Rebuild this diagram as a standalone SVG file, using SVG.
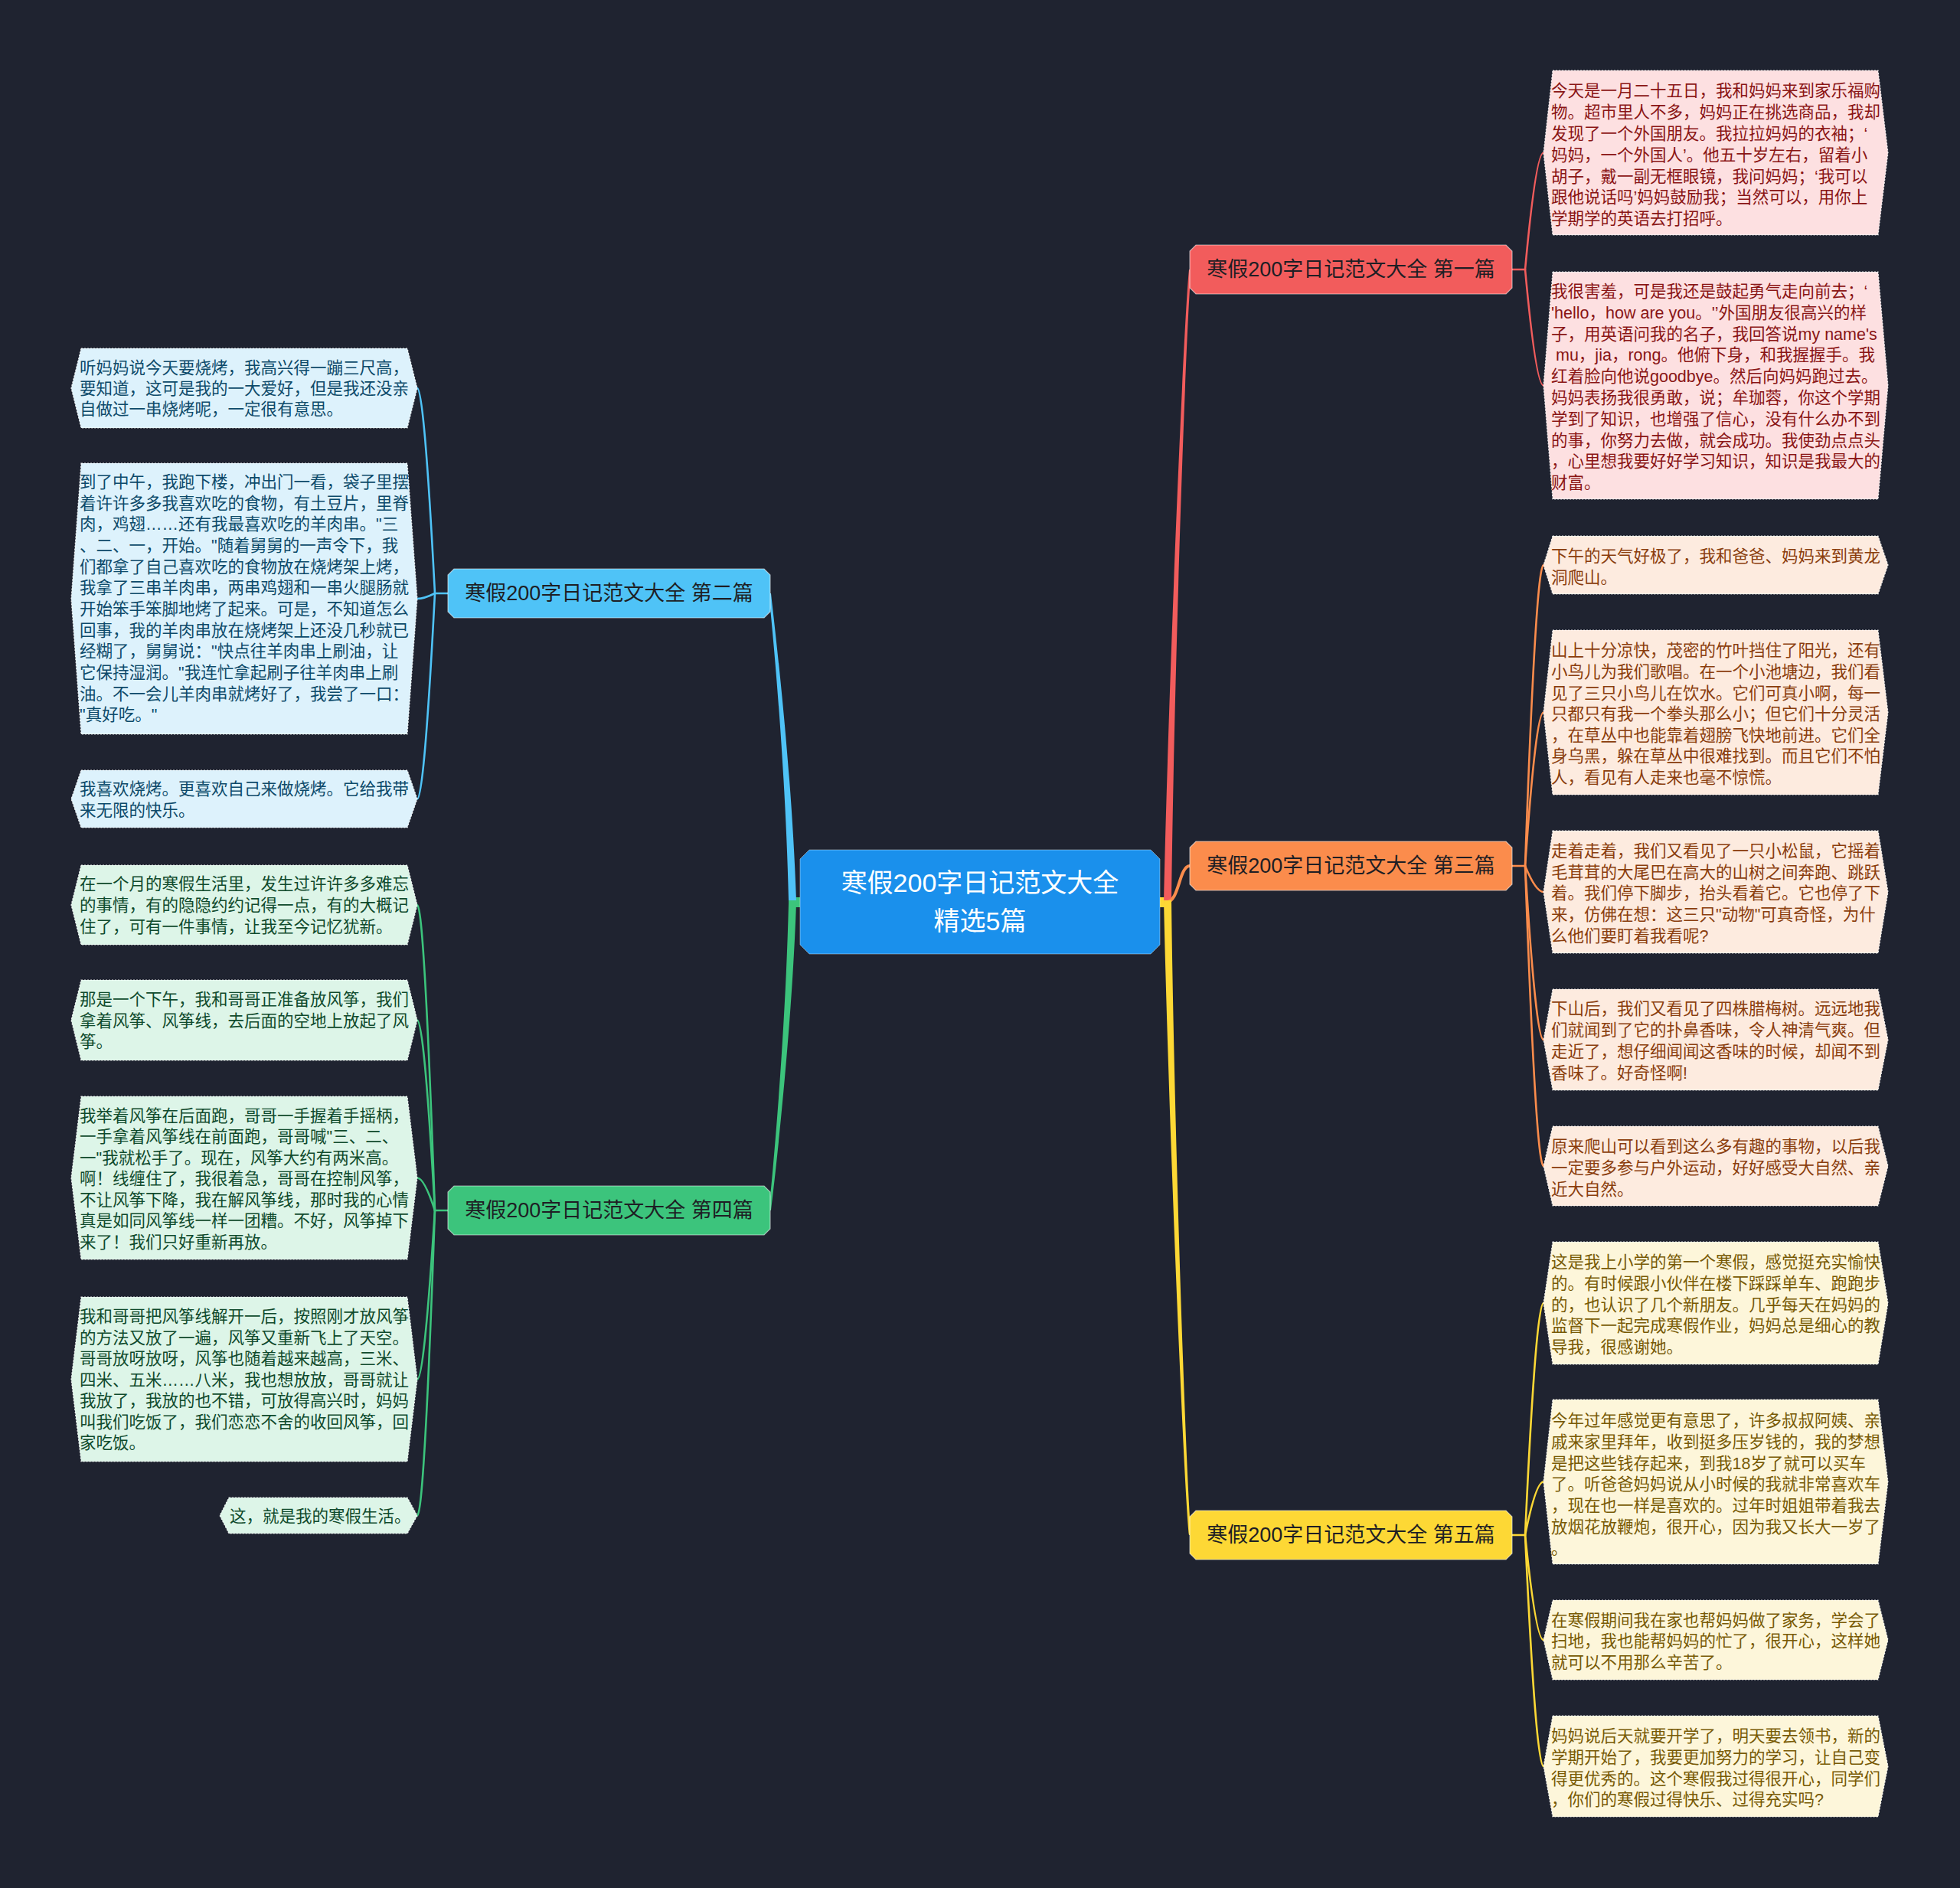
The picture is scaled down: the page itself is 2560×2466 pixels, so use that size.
<svg xmlns="http://www.w3.org/2000/svg" width="2560" height="2466" viewBox="0 0 2560 2466">
<style>
text{font-family:"Liberation Sans","Noto Sans CJK SC",sans-serif;}
.lf{font-size:21.5px;}
.leaf{stroke:#ffffff;stroke-width:1.2;stroke-dasharray:2 2;stroke-opacity:0.85;}
.red .leaf{fill:#fde0e1;} .red text{fill:#8a1515;}
.org .leaf{fill:#fdebdf;} .org text{fill:#8a3d0d;}
.yel .leaf{fill:#fdf6da;} .yel text{fill:#785a05;}
.blu .leaf{fill:#ddf2fc;} .blu text{fill:#0d4a6a;}
.grn .leaf{fill:#ddf5e8;} .grn text{fill:#0f4a2c;}
.br{stroke:#ffffff;stroke-opacity:0.55;stroke-width:1.2;}
.bt{font-size:27px;fill:#1e1e24;text-anchor:middle;}
.c{fill:none;stroke-width:2.6;stroke-linecap:round;}
</style>
<rect width="2560" height="2466" fill="#1f2330"/>

<g id="connectors">
  <rect x="1513" y="1172" width="17" height="13" fill="#fdd835"/>
  <rect x="1030" y="1172" width="17" height="13" fill="#3cc47c"/>
  <path d="M1520,1180 C1526,900 1546,420 1553,352 L1556,352 C1549,420 1533,900 1530,1180 Z" fill="#f25c5c"/>
  <path d="M1524,1178 C1540,1178 1540,1131 1554,1131" fill="none" stroke="#fb8c4c" stroke-width="4"/>
  <path d="M1520,1176 C1526,1450 1546,1940 1553,2005 L1556,2005 C1549,1940 1533,1450 1530,1176 Z" fill="#fdd835"/>
  <path d="M1040,1176 C1034,1000 1012,820 1007,775 L1004,775 C1009,820 1026,1000 1030,1176 Z" fill="#4fc3f7"/>
  <path d="M1040,1180 C1034,1350 1012,1540 1007,1581 L1004,1581 C1009,1540 1026,1350 1030,1180 Z" fill="#3cc47c"/>
  <g stroke="#f25c5c" class="c">
    <path d="M1975,352 L1992,352"/>
    <path d="M1992,352 Q2006,199.5 2016,199.5"/>
    <path d="M1992,352 Q2006,503.5 2016,503.5"/>
  </g>
  <g stroke="#fb8c4c" class="c">
    <path d="M1975,1131 L1992,1131"/>
    <path d="M1992,1131 Q2006,738 2016,738"/>
    <path d="M1992,1131 Q2006,930.5 2016,930.5"/>
    <path d="M1992,1131 Q2006,1165 2016,1165"/>
    <path d="M1992,1131 Q2006,1358 2016,1358"/>
    <path d="M1992,1131 Q2006,1523 2016,1523"/>
  </g>
  <g stroke="#fdd835" class="c">
    <path d="M1975,2005 L1992,2005"/>
    <path d="M1992,2005 Q2006,1702 2016,1702"/>
    <path d="M1992,2005 Q2006,1935.5 2016,1935.5"/>
    <path d="M1992,2005 Q2006,2142 2016,2142"/>
    <path d="M1992,2005 Q2006,2307 2016,2307"/>
  </g>
  <g stroke="#4fc3f7" class="c">
    <path d="M585,775 L568,775"/>
    <path d="M568,775 Q554,507 545,507"/>
    <path d="M568,775 Q554,782 545,782"/>
    <path d="M568,775 Q554,1043.5 545,1043.5"/>
  </g>
  <g stroke="#3cc47c" class="c">
    <path d="M585,1581 L568,1581"/>
    <path d="M568,1581 Q554,1182 545,1182"/>
    <path d="M568,1581 Q554,1332.5 545,1332.5"/>
    <path d="M568,1581 Q554,1538.5 545,1538.5"/>
    <path d="M568,1581 Q554,1801.5 545,1801.5"/>
    <path d="M568,1581 Q554,1979.5 545,1979.5"/>
  </g>
</g>

<g id="center">
  <polygon points="1057,1110 1503,1110 1515,1122 1515,1234 1503,1246 1057,1246 1045,1234 1045,1122" fill="#1a90ec" stroke="#ffffff" stroke-opacity="0.4" stroke-width="1"/>
  <text x="1280" y="1165" font-size="34" fill="#ffffff" text-anchor="middle">寒假200字日记范文大全</text>
  <text x="1280" y="1215" font-size="34" fill="#ffffff" text-anchor="middle">精选5篇</text>
</g>

<g id="branch1">
  <polygon class="br" points="1562,320 1967,320 1975,328 1975,376 1967,384 1562,384 1554,376 1554,328" fill="#f25c5c"/>
  <text class="bt" x="1764.5" y="361">寒假200字日记范文大全 第一篇</text>
</g>
<g id="branch3">
  <polygon class="br" points="1562,1099 1967,1099 1975,1107 1975,1155 1967,1163 1562,1163 1554,1155 1554,1107" fill="#fb8c4c"/>
  <text class="bt" x="1764.5" y="1140">寒假200字日记范文大全 第三篇</text>
</g>
<g id="branch5">
  <polygon class="br" points="1562,1973 1967,1973 1975,1981 1975,2029 1967,2037 1562,2037 1554,2029 1554,1981" fill="#fdd835"/>
  <text class="bt" x="1764.5" y="2014">寒假200字日记范文大全 第五篇</text>
</g>
<g id="branch2">
  <polygon class="br" points="593,743 998,743 1006,751 1006,799 998,807 593,807 585,799 585,751" fill="#4fc3f7"/>
  <text class="bt" x="795.5" y="784">寒假200字日记范文大全 第二篇</text>
</g>
<g id="branch4">
  <polygon class="br" points="593,1549 998,1549 1006,1557 1006,1605 998,1613 593,1613 585,1605 585,1557" fill="#3cc47c"/>
  <text class="bt" x="795.5" y="1590">寒假200字日记范文大全 第四篇</text>
</g>

<g id="leaf-r1a" class="red">
  <polygon class="leaf" points="2028,92 2453,92 2466,199.5 2453,307 2028,307 2016,199.5"/>
  <text class="lf" x="2026" y="126.3"><tspan x="2026">今天是一月二十五日，我和妈妈来到家乐福购</tspan><tspan x="2026" dy="27.8">物。超市里人不多，妈妈正在挑选商品，我却</tspan><tspan x="2026" dy="27.8">发现了一个外国朋友。我拉拉妈妈的衣袖；‘</tspan><tspan x="2026" dy="27.8">妈妈，一个外国人’。他五十岁左右，留着小</tspan><tspan x="2026" dy="27.8">胡子，戴一副无框眼镜，我问妈妈；‘我可以</tspan><tspan x="2026" dy="27.8">跟他说话吗’妈妈鼓励我；当然可以，用你上</tspan><tspan x="2026" dy="27.8">学期学的英语去打招呼。</tspan></text>
</g>
<g id="leaf-r1b" class="red">
  <polygon class="leaf" points="2028,355 2453,355 2466,503.5 2453,652 2028,652 2016,503.5"/>
  <text class="lf" x="2026" y="388"><tspan x="2026">我很害羞，可是我还是鼓起勇气走向前去；‘</tspan><tspan x="2026" dy="27.8">'hello，how are you。'’外国朋友很高兴的样</tspan><tspan x="2026" dy="27.8">子，用英语问我的名子，我回答说my name's</tspan><tspan x="2032" dy="27.8">mu，jia，rong。他俯下身，和我握握手。我</tspan><tspan x="2026" dy="27.8">红着脸向他说goodbye。然后向妈妈跑过去。</tspan><tspan x="2026" dy="27.8">妈妈表扬我很勇敢，说；牟珈蓉，你这个学期</tspan><tspan x="2026" dy="27.8">学到了知识，也增强了信心，没有什么办不到</tspan><tspan x="2026" dy="27.8">的事，你努力去做，就会成功。我使劲点点头</tspan><tspan x="2026" dy="27.8">，心里想我要好好学习知识，知识是我最大的</tspan><tspan x="2026" dy="27.8">财富。</tspan></text>
</g>
<g id="leaf-r3a" class="org">
  <polygon class="leaf" points="2028,700 2453,700 2466,738 2453,776 2028,776 2016,738"/>
  <text class="lf" x="2026" y="734"><tspan x="2026">下午的天气好极了，我和爸爸、妈妈来到黄龙</tspan><tspan x="2026" dy="27.5">洞爬山。</tspan></text>
</g>
<g id="leaf-r3b" class="org">
  <polygon class="leaf" points="2028,823 2453,823 2466,930.5 2453,1038 2028,1038 2016,930.5"/>
  <text class="lf" x="2026" y="857.3"><tspan x="2026">山上十分凉快，茂密的竹叶挡住了阳光，还有</tspan><tspan x="2026" dy="27.6">小鸟儿为我们歌唱。在一个小池塘边，我们看</tspan><tspan x="2026" dy="27.6">见了三只小鸟儿在饮水。它们可真小啊，每一</tspan><tspan x="2026" dy="27.6">只都只有我一个拳头那么小；但它们十分灵活</tspan><tspan x="2026" dy="27.6">，在草丛中也能靠着翅膀飞快地前进。它们全</tspan><tspan x="2026" dy="27.6">身乌黑，躲在草丛中很难找到。而且它们不怕</tspan><tspan x="2026" dy="27.6">人，看见有人走来也毫不惊慌。</tspan></text>
</g>
<g id="leaf-r3c" class="org">
  <polygon class="leaf" points="2028,1085 2453,1085 2466,1165 2453,1245 2028,1245 2016,1165"/>
  <text class="lf" x="2026" y="1119"><tspan x="2026">走着走着，我们又看见了一只小松鼠，它摇着</tspan><tspan x="2026" dy="27.7">毛茸茸的大尾巴在高大的山树之间奔跑、跳跃</tspan><tspan x="2026" dy="27.7">着。我们停下脚步，抬头看着它。它也停了下</tspan><tspan x="2026" dy="27.7">来，仿佛在想：这三只"动物"可真奇怪，为什</tspan><tspan x="2026" dy="27.7">么他们要盯着我看呢?</tspan></text>
</g>
<g id="leaf-r3d" class="org">
  <polygon class="leaf" points="2028,1292 2453,1292 2466,1358 2453,1424 2028,1424 2016,1358"/>
  <text class="lf" x="2026" y="1325.3"><tspan x="2026">下山后，我们又看见了四株腊梅树。远远地我</tspan><tspan x="2026" dy="27.8">们就闻到了它的扑鼻香味，令人神清气爽。但</tspan><tspan x="2026" dy="27.8">走近了，想仔细闻闻这香味的时候，却闻不到</tspan><tspan x="2026" dy="27.8">香味了。好奇怪啊!</tspan></text>
</g>
<g id="leaf-r3e" class="org">
  <polygon class="leaf" points="2028,1471 2453,1471 2466,1523 2453,1575 2028,1575 2016,1523"/>
  <text class="lf" x="2026" y="1504.7"><tspan x="2026">原来爬山可以看到这么多有趣的事物，以后我</tspan><tspan x="2026" dy="28">一定要多参与户外运动，好好感受大自然、亲</tspan><tspan x="2026" dy="28">近大自然。</tspan></text>
</g>
<g id="leaf-r5a" class="yel">
  <polygon class="leaf" points="2028,1622 2453,1622 2466,1702 2453,1782 2028,1782 2016,1702"/>
  <text class="lf" x="2026" y="1656.3"><tspan x="2026">这是我上小学的第一个寒假，感觉挺充实愉快</tspan><tspan x="2026" dy="27.7">的。有时候跟小伙伴在楼下踩踩单车、跑跑步</tspan><tspan x="2026" dy="27.7">的，也认识了几个新朋友。几乎每天在妈妈的</tspan><tspan x="2026" dy="27.7">监督下一起完成寒假作业，妈妈总是细心的教</tspan><tspan x="2026" dy="27.7">导我，很感谢她。</tspan></text>
</g>
<g id="leaf-r5b" class="yel">
  <polygon class="leaf" points="2028,1828 2453,1828 2466,1935.5 2453,2043 2028,2043 2016,1935.5"/>
  <text class="lf" x="2026" y="1863"><tspan x="2026">今年过年感觉更有意思了，许多叔叔阿姨、亲</tspan><tspan x="2026" dy="27.8">戚来家里拜年，收到挺多压岁钱的，我的梦想</tspan><tspan x="2026" dy="27.8">是把这些钱存起来，到我18岁了就可以买车</tspan><tspan x="2026" dy="27.8">了。听爸爸妈妈说从小时候的我就非常喜欢车</tspan><tspan x="2026" dy="27.8">，现在也一样是喜欢的。过年时姐姐带着我去</tspan><tspan x="2026" dy="27.8">放烟花放鞭炮，很开心，因为我又长大一岁了</tspan><tspan x="2026" dy="27.8">。</tspan></text>
</g>
<g id="leaf-r5c" class="yel">
  <polygon class="leaf" points="2028,2090 2453,2090 2466,2142 2453,2194 2028,2194 2016,2142"/>
  <text class="lf" x="2026" y="2124"><tspan x="2026">在寒假期间我在家也帮妈妈做了家务，学会了</tspan><tspan x="2026" dy="27.4">扫地，我也能帮妈妈的忙了，很开心，这样她</tspan><tspan x="2026" dy="27.4">就可以不用那么辛苦了。</tspan></text>
</g>
<g id="leaf-r5d" class="yel">
  <polygon class="leaf" points="2028,2241 2453,2241 2466,2307 2453,2373 2028,2373 2016,2307"/>
  <text class="lf" x="2026" y="2275.3"><tspan x="2026">妈妈说后天就要开学了，明天要去领书，新的</tspan><tspan x="2026" dy="27.6">学期开始了，我要更加努力的学习，让自己变</tspan><tspan x="2026" dy="27.6">得更优秀的。这个寒假我过得很开心，同学们</tspan><tspan x="2026" dy="27.6">，你们的寒假过得快乐、过得充实吗?</tspan></text>
</g>

<g id="leaf-l2a" class="blu">
  <polygon class="leaf" points="106,455 532,455 545,507 532,559 106,559 93,507"/>
  <text class="lf" x="104" y="487.8"><tspan x="104">听妈妈说今天要烧烤，我高兴得一蹦三尺高，</tspan><tspan x="104" dy="27.1">要知道，这可是我的一大爱好，但是我还没亲</tspan><tspan x="104" dy="27.1">自做过一串烧烤呢，一定很有意思。</tspan></text>
</g>
<g id="leaf-l2b" class="blu">
  <polygon class="leaf" points="106,605 532,605 545,782 532,959 106,959 93,782"/>
  <text class="lf" x="104" y="636.9"><tspan x="104">到了中午，我跑下楼，冲出门一看，袋子里摆</tspan><tspan x="104" dy="27.67">着许许多多我喜欢吃的食物，有土豆片，里脊</tspan><tspan x="104" dy="27.67">肉，鸡翅……还有我最喜欢吃的羊肉串。"三</tspan><tspan x="104" dy="27.67">、二、一，开始。"随着舅舅的一声令下，我</tspan><tspan x="104" dy="27.67">们都拿了自己喜欢吃的食物放在烧烤架上烤，</tspan><tspan x="104" dy="27.67">我拿了三串羊肉串，两串鸡翅和一串火腿肠就</tspan><tspan x="104" dy="27.67">开始笨手笨脚地烤了起来。可是，不知道怎么</tspan><tspan x="104" dy="27.67">回事，我的羊肉串放在烧烤架上还没几秒就已</tspan><tspan x="104" dy="27.67">经糊了，舅舅说："快点往羊肉串上刷油，让</tspan><tspan x="104" dy="27.67">它保持湿润。"我连忙拿起刷子往羊肉串上刷</tspan><tspan x="104" dy="27.67">油。不一会儿羊肉串就烤好了，我尝了一口：</tspan><tspan x="104" dy="27.67">"真好吃。"</tspan></text>
</g>
<g id="leaf-l2c" class="blu">
  <polygon class="leaf" points="106,1006 532,1006 545,1043.5 532,1081 106,1081 93,1043.5"/>
  <text class="lf" x="104" y="1038"><tspan x="104">我喜欢烧烤。更喜欢自己来做烧烤。它给我带</tspan><tspan x="104" dy="27.5">来无限的快乐。</tspan></text>
</g>
<g id="leaf-l4a" class="grn">
  <polygon class="leaf" points="106,1130 532,1130 545,1182 532,1234 106,1234 93,1182"/>
  <text class="lf" x="104" y="1161.6"><tspan x="104">在一个月的寒假生活里，发生过许许多多难忘</tspan><tspan x="104" dy="28">的事情，有的隐隐约约记得一点，有的大概记</tspan><tspan x="104" dy="28">住了，可有一件事情，让我至今记忆犹新。</tspan></text>
</g>
<g id="leaf-l4b" class="grn">
  <polygon class="leaf" points="106,1280 532,1280 545,1332.5 532,1385 106,1385 93,1332.5"/>
  <text class="lf" x="104" y="1313"><tspan x="104">那是一个下午，我和哥哥正准备放风筝，我们</tspan><tspan x="104" dy="27.6">拿着风筝、风筝线，去后面的空地上放起了风</tspan><tspan x="104" dy="27.6">筝。</tspan></text>
</g>
<g id="leaf-l4c" class="grn">
  <polygon class="leaf" points="106,1432 532,1432 545,1538.5 532,1645 106,1645 93,1538.5"/>
  <text class="lf" x="104" y="1464.6"><tspan x="104">我举着风筝在后面跑，哥哥一手握着手摇柄，</tspan><tspan x="104" dy="27.55">一手拿着风筝线在前面跑，哥哥喊"三、二、</tspan><tspan x="104" dy="27.55">一"我就松手了。现在，风筝大约有两米高。</tspan><tspan x="104" dy="27.55">啊！线缠住了，我很着急，哥哥在控制风筝，</tspan><tspan x="104" dy="27.55">不让风筝下降，我在解风筝线，那时我的心情</tspan><tspan x="104" dy="27.55">真是如同风筝线一样一团糟。不好，风筝掉下</tspan><tspan x="104" dy="27.55">来了！我们只好重新再放。</tspan></text>
</g>
<g id="leaf-l4d" class="grn">
  <polygon class="leaf" points="106,1694 532,1694 545,1801.5 532,1909 106,1909 93,1801.5"/>
  <text class="lf" x="104" y="1727.3"><tspan x="104">我和哥哥把风筝线解开一后，按照刚才放风筝</tspan><tspan x="104" dy="27.45">的方法又放了一遍，风筝又重新飞上了天空。</tspan><tspan x="104" dy="27.45">哥哥放呀放呀，风筝也随着越来越高，三米、</tspan><tspan x="104" dy="27.45">四米、五米……八米，我也想放放，哥哥就让</tspan><tspan x="104" dy="27.45">我放了，我放的也不错，可放得高兴时，妈妈</tspan><tspan x="104" dy="27.45">叫我们吃饭了，我们恋恋不舍的收回风筝，回</tspan><tspan x="104" dy="27.45">家吃饭。</tspan></text>
</g>
<g id="leaf-l4e" class="grn">
  <polygon class="leaf" points="299,1956 532,1956 545,1979.5 532,2003 299,2003 287,1979.5"/>
  <text class="lf" x="300" y="1988">这，就是我的寒假生活。</text>
</g>
</svg>
